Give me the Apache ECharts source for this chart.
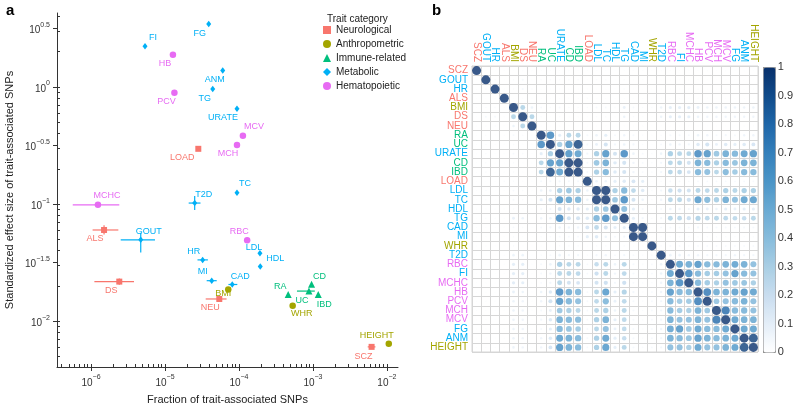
<!DOCTYPE html>
<html><head><meta charset="utf-8">
<script src="https://cdn.jsdelivr.net/npm/echarts@6/dist/echarts.min.js"></script>
<style>html,body{margin:0;padding:0;background:#fff}#c{width:796px;height:410px}</style>
</head><body><div id="c"></div>
<script>
// ---------- categories ----------
const categories = ['Neurological','Anthropometric','Immune-related','Metabolic','Hematopoietic'];
const categoryColors = ['#F8766D','#A3A500','#00BF7D','#00B0F6','#E76BF3'];
const categorySymbols = ['rect','circle','triangle','diamond','circle'];
const neurological = ['SCZ','ALS','DS','NEU','LOAD'];
const anthropometric = ['BMI','WHR','HEIGHT'];
const immune = ['RA','UC','CD','IBD'];
const metabolic = ['GOUT','HR','URATE','LDL','TC','HDL','TG','CAD','MI','T2D','FI','FG','ANM'];
const hematopoietic = ['RBC','MCHC','HB','PCV','MCH','MCV'];
const categoryMembers = [neurological, anthropometric, immune, metabolic, hematopoietic];

// ---------- panel a: scatter ----------
const pointTraits   = ['FI','HB','PCV','LOAD','FG','ANM','TG','URATE','MCV','MCH','TC','T2D','RBC','LDL','HDL','HR','MI','CAD','BMI','NEU','RA','UC','CD','IBD','WHR','HEIGHT','SCZ','MCHC','ALS','GOUT','DS'];
const pointFraction = [5.37e-6,1.28e-5,1.34e-5,2.82e-5,3.90e-5,6.03e-5,4.42e-5,9.40e-5,1.13e-4,9.40e-5,9.40e-5,2.52e-5,1.29e-4,1.92e-4,1.94e-4,3.23e-5,4.28e-5,8.11e-5,7.16e-5,5.42e-5,4.63e-4,8.83e-4,9.59e-4,1.18e-3,5.32e-4,1.06e-2,6.21e-3,1.24e-6,1.50e-6,4.70e-6,2.41e-6];
const pointEffect   = [2.22,1.88,0.891,0.296,3.43,1.38,0.957,0.650,0.382,0.319,0.125,0.102,0.0492,0.0380,0.0294,0.0334,0.0222,0.0206,0.0187,0.0155,0.0169,0.0181,0.0207,0.0169,0.0136,0.00644,0.00605,0.0986,0.0601,0.0495,0.0218];

// error bars (null = none)
const errTraits  = ['T2D','HR','MI','CAD','NEU','UC','SCZ','MCHC','ALS','GOUT','DS'];
const errFracLo  = [2.09e-5,2.75e-5,3.66e-5,7.2e-5,3.55e-5,6.08e-4,5.5e-3,5.66e-7,1.05e-6,2.52e-6,1.11e-6];
const errFracHi  = [3.02e-5,3.80e-5,5.0e-5,9.5e-5,6.8e-5,1.06e-3,7.0e-3,2.41e-6,2.34e-6,7.33e-6,3.81e-6];
const errEffLo   = [0.089,null,null,null,null,null,null,null,0.055,0.0387,0.0205];
const errEffHi   = [0.117,null,null,null,null,null,null,null,0.066,0.057,0.0232];

// axis ticks (exponents of 10)
const xTickExp = [-6,-5,-4,-3,-2];
const yTickExp = [-2,-1.5,-1,-0.5,0,0.5];
const xRangeExp = [-6.46,-1.85];
const yRangeExp = [-2.39,0.63];

// ---------- panel b: correlation matrix ----------
const matrixTraits = ['SCZ','GOUT','HR','ALS','BMI','DS','NEU','RA','UC','URATE','CD','IBD','LOAD','LDL','TC','HDL','TG','CAD','MI','WHR','T2D','RBC','FI','MCHC','HB','PCV','MCH','MCV','FG','ANM','HEIGHT'];
const corrLower = [
 [],
 [0.02],
 [0.02,0.03],
 [0.02,0.02,0.02],
 [0.02,0.03,0.03,0.02],
 [0.02,0.05,0.05,0.02,0.3],
 [0.02,0.02,0.03,0.02,0.08,0.3],
 [0.02,0.03,0.02,0.02,0.04,0.03,0.02],
 [0.02,0.03,0.02,0.02,0.03,0.02,0.02,0.7],
 [0.02,0.03,0.02,0.02,0.04,0.03,0.02,0.12,0.35],
 [0.02,0.03,0.02,0.02,0.03,0.02,0.02,0.3,0.65,0.65],
 [0.02,0.03,0.02,0.02,0.03,0.02,0.02,0.3,0.95,0.6,1.0],
 [0.02,0.02,0.02,0.03,0.03,0.02,0.02,0.05,0.05,0.06,0.05,0.05],
 [0.02,0.03,0.02,0.02,0.04,0.03,0.02,0.08,0.1,0.35,0.4,0.35,0.08],
 [0.02,0.03,0.02,0.02,0.04,0.03,0.02,0.12,0.2,0.65,0.55,0.5,0.08,1.0],
 [0.02,0.02,0.02,0.02,0.03,0.02,0.02,0.05,0.06,0.2,0.15,0.15,0.12,0.35,0.4],
 [0.02,0.03,0.03,0.02,0.1,0.08,0.02,0.07,0.08,0.7,0.2,0.2,0.15,0.5,0.7,0.45],
 [0.02,0.02,0.02,0.02,0.04,0.03,0.02,0.05,0.06,0.08,0.07,0.07,0.18,0.28,0.2,0.12,0.12],
 [0.02,0.02,0.02,0.02,0.03,0.02,0.02,0.03,0.03,0.04,0.04,0.04,0.12,0.15,0.08,0.05,0.06,1.0],
 [0.02,0.02,0.02,0.02,0.03,0.02,0.02,0.02,0.02,0.03,0.03,0.03,0.02,0.03,0.03,0.02,0.03,0.02,0.02],
 [0.02,0.02,0.02,0.02,0.08,0.08,0.02,0.03,0.04,0.08,0.06,0.06,0.03,0.06,0.07,0.04,0.06,0.04,0.03,0.03],
 [0.02,0.02,0.02,0.02,0.12,0.12,0.02,0.05,0.08,0.35,0.3,0.3,0.04,0.25,0.3,0.08,0.3,0.05,0.03,0.04,0.08],
 [0.02,0.02,0.02,0.02,0.12,0.12,0.02,0.05,0.07,0.3,0.3,0.28,0.04,0.22,0.3,0.07,0.28,0.05,0.03,0.04,0.08,0.6],
 [0.02,0.02,0.02,0.02,0.13,0.12,0.02,0.04,0.06,0.3,0.2,0.18,0.03,0.2,0.22,0.06,0.22,0.04,0.03,0.03,0.07,0.55,0.7],
 [0.02,0.02,0.02,0.02,0.1,0.08,0.02,0.08,0.15,0.7,0.55,0.5,0.04,0.3,0.62,0.12,0.32,0.06,0.03,0.04,0.07,0.65,0.5,0.5],
 [0.02,0.02,0.02,0.02,0.08,0.07,0.02,0.07,0.2,0.65,0.5,0.45,0.04,0.28,0.48,0.1,0.28,0.05,0.03,0.04,0.06,0.5,0.38,0.38,0.75],
 [0.02,0.02,0.02,0.02,0.08,0.07,0.02,0.05,0.1,0.4,0.35,0.3,0.04,0.3,0.35,0.08,0.3,0.05,0.03,0.04,0.06,0.5,0.38,0.35,0.55,0.4],
 [0.02,0.02,0.02,0.02,0.08,0.07,0.02,0.06,0.15,0.55,0.5,0.48,0.04,0.35,0.55,0.12,0.28,0.05,0.03,0.04,0.06,0.55,0.45,0.45,0.55,0.45,0.8],
 [0.02,0.02,0.02,0.02,0.08,0.07,0.02,0.05,0.12,0.5,0.42,0.38,0.04,0.3,0.45,0.1,0.27,0.05,0.03,0.04,0.07,0.58,0.65,0.4,0.6,0.5,0.5,0.6],
 [0.02,0.02,0.02,0.02,0.08,0.07,0.02,0.07,0.15,0.6,0.55,0.5,0.04,0.35,0.6,0.12,0.25,0.05,0.03,0.04,0.06,0.55,0.5,0.42,0.65,0.55,0.5,0.55,0.6],
 [0.02,0.02,0.02,0.02,0.08,0.07,0.02,0.07,0.18,0.65,0.55,0.5,0.04,0.35,0.62,0.12,0.3,0.05,0.03,0.04,0.06,0.45,0.45,0.35,0.6,0.45,0.45,0.55,0.6,0.95]
];
const colorbarMin = 0, colorbarMax = 1, colorbarStep = 0.1;

// ---------- styling (not data) ----------
const FONT = 'Liberation Sans, Arial, Helvetica, sans-serif';
const blues = ['#ffffff','#e4eef8','#c9ddef','#a9cee4','#87bcdc','#6aaad3','#4b95c7','#3480bb','#1f66a8','#104b8a','#08306b'];
const labelOffset = {FI:[8,-9],HB:[-8,9],PCV:[-8,9],LOAD:[-16,9],FG:[-9,9],ANM:[-8,9],TG:[-8,9],URATE:[-14,9],MCV:[11,-9],MCH:[-9,9],TC:[8,-9],T2D:[9,-9],RBC:[-8,-9],LDL:[-6,-6],HDL:[15,-8],HR:[-9,-8],MI:[-9,-9],CAD:[8,-8],BMI:[-5,4],NEU:[-9,9],RA:[-8,-8],UC:[-7,9],CD:[8,-8],IBD:[6,10],WHR:[9,8],HEIGHT:[-12,-8],SCZ:[-8,10],MCHC:[9,-9],ALS:[-9,9],GOUT:[8,-8],DS:[-8,9]};
const symbolSizes = [6, 6.5, 7, [5,6.5], 6.5];

function catOf(t){ for (let c=0;c<categoryMembers.length;c++) if (categoryMembers[c].indexOf(t)>=0) return c; return 3; }
function colorOf(t){ return categoryColors[catOf(t)]; }
const lg = Math.log10;
function expFmt(v){ const r = Math.round(v*10)/10; const s = (r<0?'\u2212':'') + Math.abs(r); return '{b|10}{s|' + s + '}'; }
const supRich = { b:{fontSize:10, color:'#333', verticalAlign:'bottom', lineHeight:14, fontFamily:FONT}, s:{fontSize:7, color:'#333', verticalAlign:'top', lineHeight:14, fontFamily:FONT} };

// minor log ticks
function minorTicks(range){ const out=[]; for(let d=Math.floor(range[0]); d<=Math.ceil(range[1]); d++){ for(let k=1;k<=9;k++){ const v=d+lg(k); if(v>=range[0]&&v<=range[1]) out.push(v);} } return out; }

// scatter series
const scatterSeries = categories.map((cat, c) => ({
  name: cat, type:'scatter', xAxisIndex:0, yAxisIndex:0,
  symbol: categorySymbols[c], symbolSize: symbolSizes[c],
  itemStyle:{ color: categoryColors[c], opacity:1 },
  label:{ show:true, position:'inside', formatter: p => p.data.name, color: categoryColors[c], fontSize:9, fontFamily:FONT },
  emphasis:{disabled:true},
  z: 3,
  data: pointTraits.map((t,i)=>({t,i})).filter(o=>catOf(o.t)===c).map(o=>({
    name:o.t, value:[lg(pointFraction[o.i]), lg(pointEffect[o.i])],
    label:{ offset: labelOffset[o.t] || [0,-8] }
  }))
}));

const errData = errTraits.map((t,k)=>{
  const i = pointTraits.indexOf(t);
  const x = lg(pointFraction[i]), y = lg(pointEffect[i]);
  return [x, y,
    errFracLo[k]==null? x : lg(errFracLo[k]), errFracHi[k]==null? x : lg(errFracHi[k]),
    errEffLo[k]==null? y : lg(errEffLo[k]), errEffHi[k]==null? y : lg(errEffHi[k]), catOf(t)];
});
const errSeries = {
  type:'custom', name:'err', xAxisIndex:0, yAxisIndex:0, z:2, silent:true,
  renderItem:(params, api)=>{
    const x=api.value(0), y=api.value(1), col=categoryColors[api.value(6)];
    const a=api.coord([api.value(2),y]), b=api.coord([api.value(3),y]);
    const c=api.coord([x,api.value(4)]), d=api.coord([x,api.value(5)]);
    return {type:'group', children:[
      {type:'line', shape:{x1:a[0],y1:a[1],x2:b[0],y2:b[1]}, style:{stroke:col,lineWidth:1.2}},
      {type:'line', shape:{x1:c[0],y1:c[1],x2:d[0],y2:d[1]}, style:{stroke:col,lineWidth:1.2}}
    ]};
  },
  data: errData
};

// matrix series
const N = matrixTraits.length;
const matData = [];
for (let i=0;i<N;i++) for (let j=0;j<N;j++){
  const v = i===j ? 1 : (i>j ? corrLower[i][j] : corrLower[j][i]);
  matData.push([j, i, v]);
}
const matSeries = {
  type:'scatter', xAxisIndex:2, yAxisIndex:2, data: matData,
  symbol:'circle', symbolSize: v => v[2] < 0.005 ? 0 : 9*Math.sqrt(v[2]),
  emphasis:{disabled:true}, silent:true, z:3
};

const series = [errSeries, ...scatterSeries, matSeries];
const matIdx = series.length - 1;

const axisColor = '#333';
const option = {
  animation:false,
  textStyle:{fontFamily:FONT},
  title:[
    {text:'a', left:1, top:-2, textStyle:{fontSize:15, fontWeight:'bold', color:'#000', fontFamily:FONT}},
    {text:'b', left:427, top:-2, textStyle:{fontSize:15, fontWeight:'bold', color:'#000', fontFamily:FONT}},
    {text:'Trait category', left:322, top:9, textStyle:{fontSize:10, fontWeight:'normal', color:'#222', fontFamily:FONT}}
  ],
  legend:{ data:categories, orient:'vertical', left:323, top:25, itemWidth:8, itemHeight:8, itemGap:4, padding:0,
    textStyle:{fontSize:10, color:'#222', fontFamily:FONT}, selectedMode:false },
  grid:[
    {left:57, top:13, width:341, height:359},
    {left:472, top:66, width:286, height:286, show:true, borderColor:'#d6d6d6', borderWidth:1},
    {left:763, top:67, width:12, height:285}
  ],
  xAxis:[
    {type:'value', gridIndex:0, min:xRangeExp[0], max:xRangeExp[1], position:'bottom',
     name:'Fraction of trait-associated SNPs', nameLocation:'middle', nameGap:27,
     nameTextStyle:{fontSize:11, color:'#222', fontFamily:FONT},
     axisLine:{show:true, onZero:false, lineStyle:{color:axisColor, width:1}},
     axisTick:{show:true, length:4, customValues:xTickExp, lineStyle:{color:axisColor}},
     axisLabel:{show:true, margin:7, customValues:xTickExp, formatter:expFmt, rich:supRich},
     splitLine:{show:false}},
    {type:'value', gridIndex:0, min:xRangeExp[0], max:xRangeExp[1], position:'bottom',
     axisLine:{show:false, onZero:false}, axisLabel:{show:false}, splitLine:{show:false},
     axisTick:{show:true, inside:true, length:3, customValues:minorTicks(xRangeExp), lineStyle:{color:axisColor}}},
    {type:'category', gridIndex:1, data:matrixTraits, position:'top', boundaryGap:true,
     axisLine:{show:true, lineStyle:{color:'#d6d6d6'}}, axisTick:{show:false},
     axisLabel:{interval:0, rotate:90, margin:4, fontSize:10, fontFamily:FONT, color:(v)=>colorOf(v)},
     splitLine:{show:true, interval:0, lineStyle:{color:'#d6d6d6', width:1}}},
    {type:'value', gridIndex:2, show:false, min:0, max:1}
  ],
  yAxis:[
    {type:'value', gridIndex:0, min:yRangeExp[0], max:yRangeExp[1], position:'left',
     name:'Standardized effect size of trait-associated SNPs', nameLocation:'middle', nameGap:42,
     nameTextStyle:{fontSize:11, color:'#222', fontFamily:FONT},
     axisLine:{show:true, onZero:false, lineStyle:{color:axisColor, width:1}},
     axisTick:{show:true, length:4, customValues:yTickExp, lineStyle:{color:axisColor}},
     axisLabel:{show:true, margin:7, customValues:yTickExp, formatter:expFmt, rich:supRich},
     splitLine:{show:false}},
    {type:'value', gridIndex:0, min:yRangeExp[0], max:yRangeExp[1], position:'left',
     axisLine:{show:false, onZero:false}, axisLabel:{show:false}, splitLine:{show:false},
     axisTick:{show:true, inside:true, length:3, customValues:minorTicks(yRangeExp), lineStyle:{color:axisColor}}},
    {type:'category', gridIndex:1, data:matrixTraits, inverse:true, boundaryGap:true,
     axisLine:{show:true, lineStyle:{color:'#d6d6d6'}}, axisTick:{show:false},
     axisLabel:{interval:0, margin:4, fontSize:10, fontFamily:FONT, color:(v)=>colorOf(v)},
     splitLine:{show:true, interval:0, lineStyle:{color:'#d6d6d6', width:1}}},
    {type:'value', gridIndex:2, min:colorbarMin, max:colorbarMax, interval:colorbarStep, position:'right',
     axisLine:{show:false}, splitLine:{show:false},
     axisTick:{show:true, length:3, lineStyle:{color:'#888'}},
     axisLabel:{fontSize:11, color:'#333', margin:6, fontFamily:FONT, formatter:v=>String(Math.round(v*10)/10)}}
  ],
  visualMap:[{
    type:'continuous', min:colorbarMin, max:colorbarMax, seriesIndex:[matIdx], dimension:2,
    inRange:{color:blues}, left:763, top:67, itemWidth:12, itemHeight:285, calculable:false,
    padding:0, borderColor:'#999', borderWidth:1, text:null, hoverLink:false
  }],
  series
};
const chart = echarts.init(document.getElementById('c'), null, {renderer:'canvas'});
chart.setOption(option);
</script>
</body></html>
